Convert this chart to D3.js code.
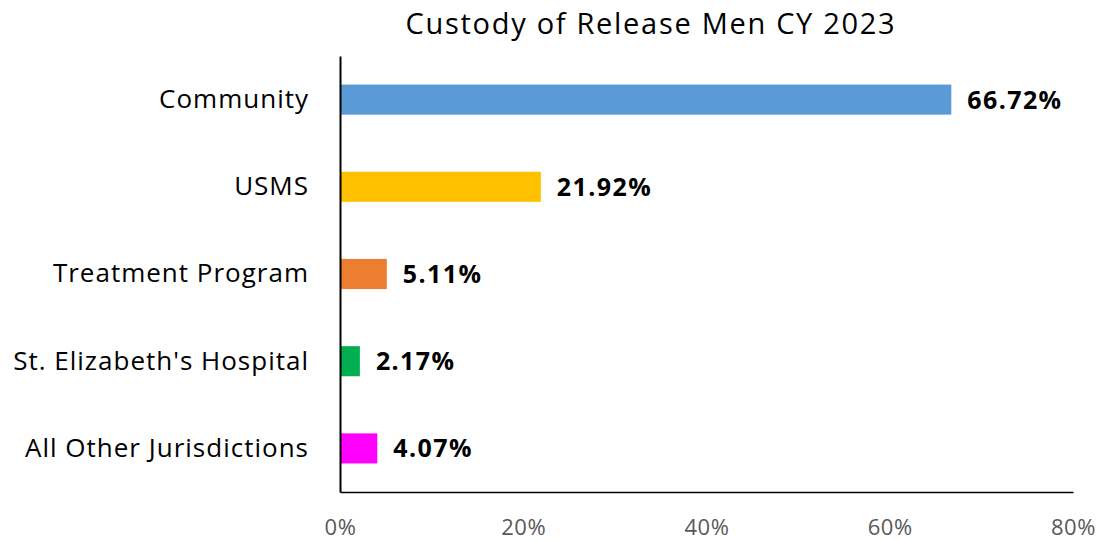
<!DOCTYPE html>
<html>
<head>
<meta charset="utf-8">
<script src="https://cdn.jsdelivr.net/npm/d3@7"></script>
<style>
  html, body { margin: 0; padding: 0; background: #fff; }
  svg { display: block; font-family: "Open Sans", sans-serif; }
</style>
</head>
<body>
<svg id="chart" width="1119" height="541"></svg>
<script>
// Share of releases by custody destination, men, calendar year 2023
const categories = ["Community", "USMS", "Treatment Program", "St. Elizabeth's Hospital", "All Other Jurisdictions"];
const values = [66.72, 21.92, 5.11, 2.17, 4.07];
const colors = ["#5b9bd5", "#ffc000", "#ed7d31", "#00b050", "#ff00ff"];
const xTicks = [0, 20, 40, 60, 80];
const title = "Custody of Release Men CY 2023";

const font = "'Open Sans', sans-serif";
const svg = d3.select("#chart");
const plotLeft = 340, plotRight = 1073, plotTop = 56, plotBottom = 492;

const x = d3.scaleLinear().domain([0, 80]).range([plotLeft, plotRight]);
const y = d3.scaleBand().domain(categories).range([plotTop, plotBottom]).paddingInner(0.655).paddingOuter(0.3275);

svg.append("text")
  .attr("x", 651).attr("y", 34)
  .attr("text-anchor", "middle")
  .attr("font-size", 29)
  .attr("letter-spacing", 1.7)
  .attr("fill", "#000")
  .text(title);

// bars
svg.append("g").selectAll("rect")
  .data(categories)
  .join("rect")
  .attr("x", x(0))
  .attr("y", d => y(d))
  .attr("width", (d, i) => x(values[i]) - x(0))
  .attr("height", y.bandwidth())
  .attr("fill", (d, i) => colors[i]);

// value labels
svg.append("g").selectAll("text")
  .data(categories)
  .join("text")
  .attr("x", (d, i) => x(values[i]) + 16)
  .attr("y", d => y(d) + y.bandwidth() / 2)
  .attr("dy", "0.36em")
  .attr("font-size", 25)
  .attr("letter-spacing", 1.4)
  .attr("font-weight", "bold")
  .attr("fill", "#000")
  .text((d, i) => values[i].toFixed(2) + "%");

// category axis
const yAxis = svg.append("g")
  .attr("transform", `translate(${plotLeft},0)`)
  .call(d3.axisLeft(y).tickSize(0).tickPadding(31));
yAxis.select(".domain").attr("stroke", "#000").attr("stroke-width", 2);
yAxis.selectAll("text").attr("font-size", 26).attr("letter-spacing", 1)
  .attr("fill", "#000").attr("font-family", font);

// value axis
const xAxis = svg.append("g")
  .attr("transform", `translate(0,${plotBottom})`)
  .call(d3.axisBottom(x).tickValues(xTicks).tickFormat(d => d + "%").tickSize(0).tickPadding(27));
xAxis.select(".domain").attr("stroke", "#000").attr("stroke-width", 1.5);
xAxis.selectAll("text").attr("font-size", 22).attr("letter-spacing", 0.6)
  .attr("fill", "#595959").attr("font-family", font);
</script>
</body>
</html>
